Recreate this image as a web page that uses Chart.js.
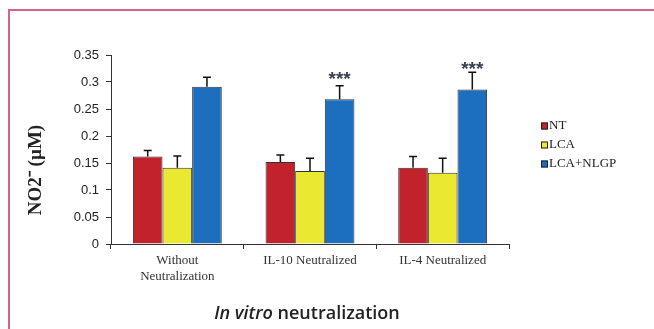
<!DOCTYPE html>
<html><head><meta charset="utf-8">
<script src="https://cdn.jsdelivr.net/npm/chart.js@4.4.0/dist/chart.umd.min.js"></script>
<style>
html,body{margin:0;padding:0;background:#fff;}
#wrap{position:relative;width:654px;height:329px;}
#frame{position:absolute;left:8px;top:9px;right:0;bottom:0;border-left:2px solid #d8628e;border-top:2px solid #d8628e;}
canvas{position:absolute;left:0;top:0;}
</style></head>
<body><div id="wrap"><div id="frame"></div><canvas id="c" width="654" height="329"></canvas></div>
<script>
const categories = [["Without","Neutralization"], "IL-10 Neutralized", "IL-4 Neutralized"];
const seriesNames = ["NT", "LCA", "LCA+NLGP"];
const ntValues = [0.162, 0.152, 0.141];
const ntErrors = [0.011, 0.013, 0.021];
const lcaValues = [0.141, 0.135, 0.132];
const lcaErrors = [0.022, 0.024, 0.027];
const nlgpValues = [0.291, 0.268, 0.286];
const nlgpErrors = [0.018, 0.025, 0.032];
const significance = ["", "***", "***"];
const yTicks = [0, 0.05, 0.1, 0.15, 0.2, 0.25, 0.3, 0.35];
const yTitle = 'NO2\u207B (\u00B5M)';
const xTitleItalic = 'In vitro';
const xTitleRest = ' neutralization';
const colors = ["#c1222b", "#ebe832", "#1b6fbe"];

const errorPlugin = {
  id: 'errs',
  afterDatasetsDraw(chart) {
    const ctx = chart.ctx;
    const y = chart.scales.y;
    chart.data.datasets.forEach((ds, di) => {
      const meta = chart.getDatasetMeta(di);
      meta.data.forEach((bar, i) => {
        const top = bar.y;
        const et = y.getPixelForValue(ds.data[i] + ds.errors[i]);
        ctx.save();
        ctx.strokeStyle = '#111';
        ctx.lineWidth = 1.5;
        ctx.beginPath();
        ctx.moveTo(bar.x, top);
        ctx.lineTo(bar.x, et);
        ctx.moveTo(bar.x - 4, et);
        ctx.lineTo(bar.x + 4, et);
        ctx.stroke();
        ctx.restore();
        if (ds.stars && ds.stars[i]) {
          ctx.save();
          ctx.fillStyle = '#3a4150';
          ctx.font = 'bold 19px "Liberation Sans"';
          ctx.textAlign = 'center';
          ctx.textBaseline = 'middle';
          ctx.fillText(ds.stars[i], bar.x, top - 20);
          ctx.restore();
        }
      });
    });
    // legend
    ctx.save();
    ctx.font = '13px "Liberation Serif"';
    ctx.textBaseline = 'middle';
    chart.data.datasets.forEach((ds, di) => {
      const ly = 126 + di * 19;
      ctx.fillStyle = ds.backgroundColor;
      ctx.fillRect(541, ly - 3.5, 7, 7);
      ctx.strokeStyle = '#222';
      ctx.lineWidth = 1;
      ctx.strokeRect(541.5, ly - 3, 6, 6);
      ctx.fillStyle = '#222';
      ctx.fillText(ds.label, 549, ly);
    });
    ctx.restore();
    // y title
    ctx.save();
    ctx.translate(36, 170);
    ctx.rotate(-Math.PI / 2);
    ctx.font = 'bold 19px "Liberation Serif"';
    ctx.textAlign = 'center';
    ctx.textBaseline = 'middle';
    ctx.fillStyle = '#222';
    ctx.fillText(yTitle, 0, 0);
    ctx.restore();
    // bottom title
    ctx.save();
    ctx.textBaseline = 'middle';
    const f1 = 'italic 600 18px "Open Sans"';
    const f2 = '600 18px "Open Sans"';
    ctx.font = f1; const w1 = ctx.measureText(xTitleItalic).width;
    ctx.font = f2; const w2 = ctx.measureText(xTitleRest).width;
    const x0 = 307 - (w1 + w2) / 2;
    ctx.fillStyle = '#222';
    ctx.font = f1; ctx.fillText(xTitleItalic, x0, 314);
    ctx.font = f2; ctx.fillText(xTitleRest, x0 + w1, 314);
    ctx.restore();
  }
};

new Chart(document.getElementById('c'), {
  type: 'bar',
  data: {
    labels: categories,
    datasets: [
      {label: seriesNames[0], data: ntValues, errors: ntErrors, backgroundColor: colors[0]},
      {label: seriesNames[1], data: lcaValues, errors: lcaErrors, backgroundColor: colors[1]},
      {label: seriesNames[2], data: nlgpValues, errors: nlgpErrors, stars: significance, backgroundColor: colors[2]}
    ].map(d => Object.assign(d, {borderColor: '#333', borderWidth: 1, categoryPercentage: 0.67, barPercentage: 1.0}))
  },
  options: {
    responsive: false,
    animation: false,
    devicePixelRatio: 1,
    layout: {padding: {left: 0, right: 145, top: 55, bottom: 0}},
    plugins: {legend: {display: false}, tooltip: {enabled: false}},
    scales: {
      x: {
        offset: true,
        grid: {offset: true, drawOnChartArea: false, drawTicks: true, tickLength: 5, color: '#333', lineWidth: 1},
        border: {color: '#333', width: 1},
        ticks: {font: {family: '"Liberation Serif"', size: 13}, color: '#333', padding: 4, maxRotation: 0},
        afterFit(s) { s.height = 85; }
      },
      y: {
        min: 0, max: 0.35,
        afterBuildTicks(s) { s.ticks = yTicks.map(v => ({value: v})); },
        grid: {drawOnChartArea: false, drawTicks: true, tickLength: 5, color: '#333'},
        border: {color: '#333', width: 1},
        ticks: {font: {family: '"Liberation Sans"', size: 13}, color: '#222', padding: 7,
          callback: v => String(v)},
        title: {display: false},
        afterFit(s) { s.width = 111; }
      }
    }
  },
  plugins: [errorPlugin]
});
</script></body></html>
